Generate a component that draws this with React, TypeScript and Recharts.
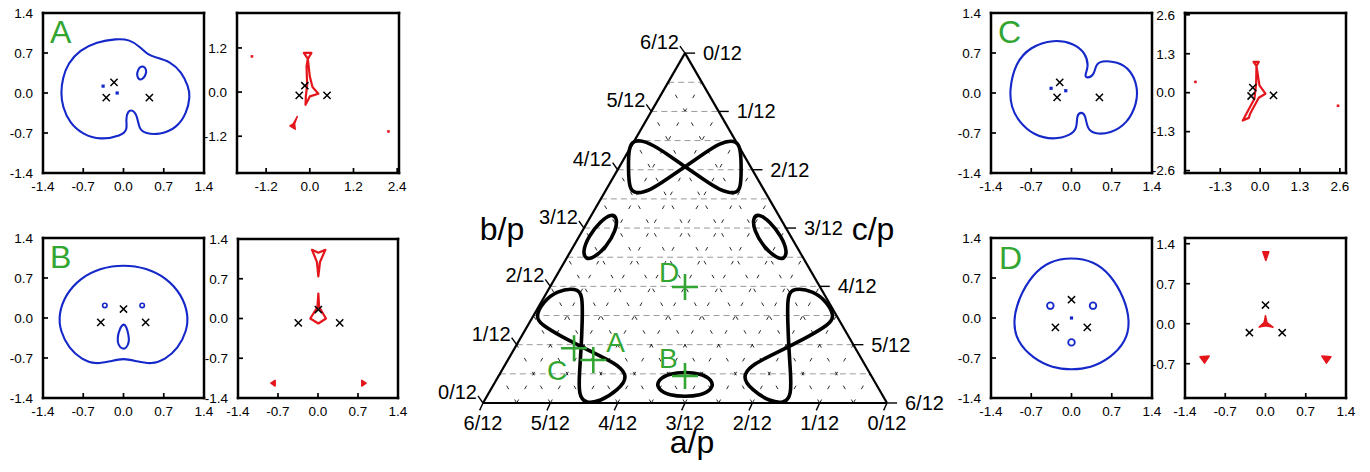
import React from "react";
import { ScatterChart, Scatter, XAxis, YAxis, ReferenceLine } from "recharts";

const FONT = "'Liberation Sans', Arial, Helvetica, sans-serif";
const BLUE = "#1528c9";
const RED = "#e4161c";
const GREEN = "#33a532";

type Pt = [number, number];

// tick values of the small panels
const ticks14 = [-1.4, -0.7, 0, 0.7, 1.4];
const ticksA2x = [-1.2, 0, 1.2, 2.4];
const ticksA2y = [-1.2, 0, 1.2];
const ticksC2x = [-1.3, 0, 1.3, 2.6];
const ticksC2y = [-2.6, -1.3, 0, 1.3, 2.6];
const ticksD2y = [-0.7, 0, 0.7, 1.4];

// ---- panel A ----
const aCurve: Pt[] = [
  [-1.09, 0.0], [-1.06, 0.26], [-0.965, 0.52], [-0.76, 0.75], [-0.47, 0.895], [-0.12, 0.95],
  [0.11, 0.935], [0.285, 0.81], [0.43, 0.66], [0.575, 0.62], [0.81, 0.55], [1.01, 0.37],
  [1.13, 0.11], [1.16, -0.06], [1.1, -0.35], [0.92, -0.62], [0.63, -0.73], [0.38, -0.71],
  [0.27, -0.63], [0.24, -0.4], [0.16, -0.29], [0.07, -0.32], [0.04, -0.47], [0.07, -0.64],
  [-0.035, -0.75], [-0.41, -0.82], [-0.7, -0.73], [-0.935, -0.53], [-1.06, -0.24],
];
const aOval: Pt[] = [
  [0.26, 0.245], [0.23, 0.315], [0.25, 0.4], [0.29, 0.46], [0.35, 0.47], [0.4, 0.41], [0.39, 0.33], [0.35, 0.26], [0.3, 0.23],
];
const aDots: Pt[] = [[-0.355, 0.12], [-0.11, 0.0]];
const aCross: Pt[] = [[-0.165, 0.185], [-0.3, -0.08], [0.45, -0.08]];
const aCaustic: Pt[] = [
  [-0.164, 1.064], [0.045, 1.064], [-0.055, 0.9], [0.0, 0.427], [0.073, 0.136], [0.236, -0.045],
  [0.0, -0.118], [-0.118, -0.345], [-0.109, -0.118], [-0.073, 0.2], [-0.09, 0.7], [-0.055, 0.9],
];
const aCausticSmall: Pt[] = [[-0.345, -0.664], [-0.455, -0.864], [-0.545, -0.918], [-0.4, -1.01], [-0.418, -0.864]];
const aRedDots: Pt[] = [[-1.59, 0.97], [2.16, -1.07]];
const aCross2: Pt[] = [[-0.136, 0.173], [-0.29, -0.09], [0.473, -0.09]];

// ---- panel B ----
const bCurve: Pt[] = [
  [0, 0.935], [0.4, 0.877], [0.75, 0.7], [1.01, 0.41], [1.13, 0.06], [1.1, -0.23], [0.95, -0.53],
  [0.72, -0.73], [0.49, -0.81], [0.23, -0.76], [0.0, -0.7], [-0.23, -0.76], [-0.49, -0.81],
  [-0.72, -0.73], [-0.95, -0.53], [-1.1, -0.23], [-1.13, 0.06], [-1.01, 0.41], [-0.75, 0.7], [-0.4, 0.877],
];
const bDrop: Pt[] = [
  [0, -0.09], [0.05, -0.15], [0.09, -0.3], [0.1, -0.42], [0.05, -0.53], [-0.02, -0.545], [-0.09, -0.48], [-0.11, -0.36], [-0.07, -0.19],
];
const bRings: Pt[] = [[-0.325, 0.22], [0.325, 0.22]];
const bCross: Pt[] = [[0, 0.157], [-0.395, -0.076], [0.385, -0.076]];
const bCausticTop: Pt[] = [[-0.105, 1.21], [0.006, 1.158], [0.129, 1.21], [0.035, 0.994], [0.006, 0.743], [-0.018, 0.994]];
const bCausticMid: Pt[] = [[0.006, 0.439], [0.02, 0.2], [0.14, 0.0], [0.006, -0.088], [-0.135, 0.0], [-0.01, 0.2]];
const bTriLeft: Pt[] = [[-0.75, -1.09], [-0.75, -1.19], [-0.825, -1.14]];
const bTriRight: Pt[] = [[0.766, -1.09], [0.766, -1.19], [0.842, -1.14]];
const bCross2: Pt[] = [[0.006, 0.158], [-0.345, -0.077], [0.38, -0.077]];

// ---- panel C ----
const cCurve: Pt[] = [
  [-1.08, 0.05], [-0.98, 0.52], [-0.72, 0.81], [-0.31, 0.94], [0.04, 0.87], [0.245, 0.7], [0.3, 0.46],
  [0.23, 0.315], [0.26, 0.257], [0.39, 0.3], [0.42, 0.49], [0.51, 0.567], [0.8, 0.55], [1.035, 0.4],
  [1.15, 0.11], [1.14, -0.18], [0.975, -0.53], [0.68, -0.71], [0.39, -0.72], [0.27, -0.62],
  [0.245, -0.386], [0.17, -0.33], [0.088, -0.386], [0.1, -0.62], [-0.018, -0.74], [-0.31, -0.82],
  [-0.66, -0.74], [-0.92, -0.5], [-1.05, -0.24],
];
const cDots: Pt[] = [[-0.355, 0.082], [-0.1, 0.04]];
const cCross: Pt[] = [[-0.205, 0.187], [-0.25, -0.076], [0.485, -0.076]];
const cCaustic: Pt[] = [
  [-0.218, 1.03], [-0.044, 1.03], [-0.12, 0.895], [-0.022, 0.246], [0.174, -0.034], [-0.044, -0.168],
  [-0.327, -0.705], [-0.37, -0.84], [-0.566, -0.928], [-0.48, -0.76], [-0.185, -0.2], [-0.13, 0.3], [-0.12, 0.895],
];
const cRedDots: Pt[] = [[-2.11, 0.36], [2.54, -0.436]];
const cCross2: Pt[] = [[-0.24, 0.168], [-0.294, -0.11], [0.436, -0.09]];

// ---- panel D ----
const dCurve: Pt[] = [
  [0, 1.064], [0.39, 0.994], [0.68, 0.76], [0.92, 0.35], [1.02, -0.06], [0.95, -0.41], [0.68, -0.7],
  [0.33, -0.877], [0, -0.906], [-0.33, -0.877], [-0.68, -0.7], [-0.95, -0.41], [-1.02, -0.06],
  [-0.92, 0.35], [-0.68, 0.76], [-0.39, 0.994],
];
const dRings: Pt[] = [[-0.368, 0.216], [0.374, 0.216], [0, -0.427]];
const dDots: Pt[] = [[0, 0]];
const dCross: Pt[] = [[0, 0.32], [-0.28, -0.164], [0.275, -0.164]];
const dDeltoid: Pt[] = [[0, 0.14], [0.025, 0.02], [0.13, -0.06], [0, -0.035], [-0.11, -0.06], [-0.025, 0.02]];
const dTriTop: Pt[] = [[-0.047, 1.26], [0.058, 1.26], [0.006, 1.108]];
const dTriLeft: Pt[] = [[-1.14, -0.578], [-0.98, -0.566], [-1.06, -0.69]];
const dTriRight: Pt[] = [[0.98, -0.566], [1.138, -0.578], [1.06, -0.69]];
const dCross2: Pt[] = [[0, 0.327], [-0.28, -0.158], [0.29, -0.158]];

// ---- ternary diagram (units of 1/12, triangle side = 6) ----
const ternTicks = [0, 1, 2, 3, 4, 5, 6];
const gridSteps = [0.5, 1, 1.5, 2, 2.5, 3, 3.5, 4, 4.5, 5, 5.5];
const loopTop: Pt[] = [
  [3.0, 3.51], [2.777, 3.668], [2.53, 3.832], [2.332, 3.906], [2.208, 3.881], [2.163, 3.757], [2.158, 3.46],
  [2.173, 3.188], [2.257, 3.104], [2.48, 3.153], [2.728, 3.322], [3.0, 3.51], [3.272, 3.698], [3.52, 3.866],
  [3.743, 3.906], [3.827, 3.807], [3.837, 3.46], [3.827, 3.188], [3.757, 3.104], [3.52, 3.153], [3.272, 3.322],
];
const ovalLeft: Pt[] = [
  [1.911, 2.817], [1.995, 2.743], [1.975, 2.569], [1.837, 2.322], [1.639, 2.149], [1.525, 2.134], [1.48, 2.248], [1.564, 2.47], [1.738, 2.693],
];
const ovalRight: Pt[] = [
  [4.089, 2.817], [4.005, 2.743], [4.025, 2.569], [4.163, 2.322], [4.361, 2.149], [4.475, 2.134], [4.52, 2.248], [4.436, 2.47], [4.262, 2.693],
];
const ovalBottom: Pt[] = [
  [3.0, 0.46], [3.223, 0.44], [3.41, 0.345], [3.41, 0.2], [3.223, 0.11], [3.0, 0.095], [2.777, 0.11], [2.59, 0.2], [2.59, 0.345], [2.777, 0.44],
];
const loopLeft: Pt[] = [
  [0.772, 1.282], [0.896, 1.505], [1.094, 1.668], [1.391, 1.708], [1.48, 1.604], [1.475, 1.233], [1.46, 0.837],
  [1.431, 0.441], [1.421, 0.119], [1.515, -0.005], [1.738, 0.02], [2.01, 0.193], [2.158, 0.391], [2.01, 0.564],
  [1.738, 0.698], [1.46, 0.837], [1.168, 0.985], [0.871, 1.158],
];
const loopRight: Pt[] = [
  [5.228, 1.282], [5.104, 1.505], [4.906, 1.668], [4.609, 1.708], [4.52, 1.604], [4.525, 1.233], [4.54, 0.837],
  [4.569, 0.441], [4.579, 0.119], [4.485, -0.005], [4.262, 0.02], [3.99, 0.193], [3.842, 0.391], [3.99, 0.564],
  [4.262, 0.698], [4.54, 0.837], [4.832, 0.985], [5.129, 1.158],
];
const markerNames = ["A", "B", "C", "D"];
const markerPos: Pt[] = [[1.638, 0.639], [3.0, 0.401], [1.352, 0.812], [3.0, 1.723]];

const markerLabelOffset: Record<string, Pt> = { A: [13, -8], B: [-26, -8], C: [-27, 32], D: [-26, -5] };

const S3 = Math.sqrt(3) / 2;
const toXY = (p: Pt[]) => p.map(([x, y]) => ({ x, y }));

const NoDot = () => <g />;
const Cross = (p: any) => {
  const s = 3.6;
  return (
    <path
      d={`M${p.cx - s},${p.cy - s}L${p.cx + s},${p.cy + s}M${p.cx - s},${p.cy + s}L${p.cx + s},${p.cy - s}`}
      stroke="#000"
      strokeWidth={1.5}
      fill="none"
    />
  );
};
const BlueDot = (p: any) => <rect x={p.cx - 1.6} y={p.cy - 1.6} width={3.2} height={3.2} fill={BLUE} />;
const RedDot = (p: any) => <rect x={p.cx - 1.3} y={p.cy - 1.3} width={2.6} height={2.6} fill={RED} />;
const SmallRing = (p: any) => <circle cx={p.cx} cy={p.cy} r={2.2} fill="none" stroke={BLUE} strokeWidth={1.6} />;
const Ring = (p: any) => <circle cx={p.cx} cy={p.cy} r={3.3} fill="none" stroke={BLUE} strokeWidth={1.8} />;

function curve(key: string, pts: Pt[], color: string, width: number, type = "basisClosed", filled = false) {
  return (
    <Scatter
      key={key}
      data={toXY(pts)}
      shape={NoDot}
      line={{ stroke: color, strokeWidth: width, fill: filled ? color : "none", strokeLinejoin: "round" }}
      lineJointType={type as any}
      isAnimationActive={false}
    />
  );
}
function marks(key: string, pts: Pt[], shape: any) {
  return <Scatter key={key} data={toXY(pts)} shape={shape} isAnimationActive={false} />;
}

type Box = { x: number; y: number; w: number; h: number };

function Panel({ box, xd, yd, xt, yt, children }: { box: Box; xd: number[]; yd: number[]; xt: number[]; yt: number[]; children: any }) {
  const axisLine = { stroke: "#000", strokeWidth: 2.5, strokeLinecap: "square" };
  const tickLine = { stroke: "#000", strokeWidth: 1.7 };
  const tick = { fill: "#000", fontSize: 13.5, fontFamily: FONT };
  const fmt = (v: number) => v.toFixed(1);
  return (
    <div style={{ position: "absolute", left: box.x - 40, top: box.y - 11 }}>
      <ScatterChart width={box.w + 53} height={box.h + 37} margin={{ top: 10, right: 12, bottom: 2, left: 0 }}>
        <XAxis type="number" dataKey="x" domain={xd} ticks={xt} interval={0} allowDataOverflow height={24}
          tickSize={-5} tickMargin={13} axisLine={axisLine} tickLine={tickLine} tick={tick} tickFormatter={fmt} />
        <XAxis xAxisId="t" orientation="top" type="number" dataKey="x" domain={xd} ticks={xt} interval={0}
          allowDataOverflow height={1} tickSize={-5} tick={false} axisLine={axisLine} tickLine={tickLine} />
        <YAxis type="number" dataKey="y" domain={yd} ticks={yt} interval={0} allowDataOverflow width={40}
          tickSize={-5} tickMargin={15} axisLine={axisLine} tickLine={tickLine} tick={tick} tickFormatter={fmt} />
        <YAxis yAxisId="r" orientation="right" type="number" dataKey="y" domain={yd} ticks={yt} interval={0}
          allowDataOverflow width={1} tickSize={-5} tick={false} axisLine={axisLine} tickLine={tickLine} />
        <Scatter xAxisId="t" yAxisId="r" data={[{ x: xd[0], y: yd[0] }]} shape={NoDot} isAnimationActive={false} />
        {children}
      </ScatterChart>
    </div>
  );
}

// ternary geometry helpers
const leftEdge = (b: number): Pt => [b / 2, b * S3];
const rightEdge = (c: number): Pt => [3 + c / 2, (6 - c) * S3];
const bottomEdge = (a: number): Pt => [6 - a, 0];

function seg(key: string, p: Pt, q: Pt, stroke: string, width: number, dash?: string) {
  return (
    <ReferenceLine
      key={key}
      segment={[{ x: p[0], y: p[1] }, { x: q[0], y: q[1] }]}
      stroke={stroke}
      strokeWidth={width}
      strokeDasharray={dash}
      ifOverflow="visible"
    />
  );
}

const BottomLabel = (p: any) => (
  <text x={p.cx} y={p.cy + 27} textAnchor="middle" fontSize={20} fontFamily={FONT} fill="#000">{p.payload.label}</text>
);
const LeftLabel = (p: any) => (
  <text x={p.cx - 6} y={p.cy - 4} textAnchor="end" fontSize={20} fontFamily={FONT} fill="#000">{p.payload.label}</text>
);
const RightLabel = (p: any) => (
  <text x={p.cx + 18} y={p.cy + 7} textAnchor="start" fontSize={20} fontFamily={FONT} fill="#000">{p.payload.label}</text>
);
const GreenMarker = (p: any) => {
  const s = 13;
  const off = markerLabelOffset[p.payload.label];
  return (
    <g>
      <path d={`M${p.cx - s},${p.cy}H${p.cx + s}M${p.cx},${p.cy - s}V${p.cy + s}`} stroke={GREEN} strokeWidth={2.6} />
      <text x={p.cx + off[0]} y={p.cy + off[1]} fontSize={28} fontFamily={FONT} fill={GREEN}>{p.payload.label}</text>
    </g>
  );
};

function Ternary() {
  const lines: any[] = [];
  gridSteps.forEach((g, i) => {
    lines.push(seg(`h${i}`, leftEdge(g), [6 - g / 2, g * S3], "#9a9a9a", 1, "6 4"));
    lines.push(seg(`c${i}`, [g, 0], [g + (6 - g) / 2, (6 - g) * S3], "#111", 0.9, "4 12"));
    lines.push(seg(`a${i}`, [6 - g, 0], [(6 - g) / 2, (6 - g) * S3], "#111", 0.9, "4 12"));
  });
  lines.push(seg("e1", [0, 0], [6, 0], "#000", 2.2));
  lines.push(seg("e2", [0, 0], [3, 6 * S3], "#000", 2.2));
  lines.push(seg("e3", [6, 0], [3, 6 * S3], "#000", 2.2));
  ternTicks.forEach((v) => {
    const pb = bottomEdge(v);
    lines.push(seg(`tb${v}`, pb, [pb[0] - 0.05, -0.11], "#000", 1.4));
    const pl = leftEdge(v);
    lines.push(seg(`tl${v}`, pl, [pl[0] - 0.075, pl[1] + 0.105], "#000", 1.4));
    const pr = rightEdge(v);
    lines.push(seg(`tr${v}`, pr, [pr[0] + 0.15, pr[1]], "#000", 1.4));
  });
  const bottomLabels = ternTicks.map((v) => ({ x: bottomEdge(v)[0], y: bottomEdge(v)[1], label: `${v}/12` }));
  const leftLabels = ternTicks.map((v) => ({ x: leftEdge(v)[0], y: leftEdge(v)[1], label: `${v}/12` }));
  const rightLabels = ternTicks.map((v) => ({ x: rightEdge(v)[0], y: rightEdge(v)[1], label: `${v}/12` }));
  const markers = markerPos.map(([x, y], i) => ({ x, y, label: markerNames[i] }));
  return (
    <div style={{ position: "absolute", left: 422, top: 0 }}>
      <ScatterChart width={526} height={472} margin={{ top: 0, right: 0, bottom: 0, left: 0 }}>
        <XAxis type="number" dataKey="x" domain={[-0.906, 6.906]} allowDataOverflow hide />
        <YAxis type="number" dataKey="y" domain={[-1.025, 5.985]} allowDataOverflow hide />
        {lines}
        {curve("lt", loopTop, "#000", 3.6)}
        {curve("ol", ovalLeft, "#000", 3.6)}
        {curve("or", ovalRight, "#000", 3.6)}
        {curve("ob", ovalBottom, "#000", 3.6)}
        {curve("ll", loopLeft, "#000", 3.6)}
        {curve("lr", loopRight, "#000", 3.6)}
        <Scatter data={bottomLabels} shape={BottomLabel} isAnimationActive={false} />
        <Scatter data={leftLabels} shape={LeftLabel} isAnimationActive={false} />
        <Scatter data={rightLabels} shape={RightLabel} isAnimationActive={false} />
        <Scatter data={markers} shape={GreenMarker} isAnimationActive={false} />
      </ScatterChart>
    </div>
  );
}

export default function App() {
  return (
    <div style={{ position: "absolute", left: 0, top: 0, width: 1370, height: 472, background: "#fff", overflow: "hidden", fontFamily: FONT }}>
      <Panel box={{ x: 43, y: 13, w: 161, h: 160 }} xd={[-1.4, 1.4]} yd={[-1.4, 1.4]} xt={ticks14} yt={ticks14}>
        {curve("c", aCurve, BLUE, 2.1)}
        {curve("o", aOval, BLUE, 2.1)}
        {marks("d", aDots, BlueDot)}
        {marks("x", aCross, Cross)}
      </Panel>
      <Panel box={{ x: 237, y: 13, w: 162, h: 160 }} xd={[-2.0, 2.45]} yd={[-2.2, 2.15]} xt={ticksA2x} yt={ticksA2y}>
        {curve("k", aCaustic, RED, 2.2, "linearClosed")}
        {curve("k2", aCausticSmall, RED, 1.5, "linearClosed", true)}
        {marks("d", aRedDots, RedDot)}
        {marks("x", aCross2, Cross)}
      </Panel>
      <Panel box={{ x: 43, y: 238, w: 161, h: 160 }} xd={[-1.4, 1.4]} yd={[-1.4, 1.4]} xt={ticks14} yt={ticks14}>
        {curve("c", bCurve, BLUE, 2.1)}
        {curve("o", bDrop, BLUE, 2.1)}
        {marks("r", bRings, SmallRing)}
        {marks("x", bCross, Cross)}
      </Panel>
      <Panel box={{ x: 238, y: 239, w: 160, h: 159 }} xd={[-1.4, 1.4]} yd={[-1.4, 1.4]} xt={ticks14} yt={ticks14}>
        {curve("k1", bCausticTop, RED, 2.2, "linearClosed")}
        {curve("k2", bCausticMid, RED, 2.2, "linearClosed")}
        {curve("k3", bTriLeft, RED, 1.5, "linearClosed", true)}
        {curve("k4", bTriRight, RED, 1.5, "linearClosed", true)}
        {marks("x", bCross2, Cross)}
      </Panel>
      <Panel box={{ x: 991, y: 13, w: 161, h: 160 }} xd={[-1.4, 1.4]} yd={[-1.4, 1.4]} xt={ticks14} yt={ticks14}>
        {curve("c", cCurve, BLUE, 2.1)}
        {marks("d", cDots, BlueDot)}
        {marks("x", cCross, Cross)}
      </Panel>
      <Panel box={{ x: 1185, y: 13, w: 161, h: 160 }} xd={[-2.45, 2.8]} yd={[-2.68, 2.66]} xt={ticksC2x} yt={ticksC2y}>
        {curve("k", cCaustic, RED, 2.2, "linearClosed")}
        {marks("d", cRedDots, RedDot)}
        {marks("x", cCross2, Cross)}
      </Panel>
      <Panel box={{ x: 991, y: 238, w: 161, h: 160 }} xd={[-1.4, 1.4]} yd={[-1.4, 1.4]} xt={ticks14} yt={ticks14}>
        {curve("c", dCurve, BLUE, 2.1)}
        {marks("r", dRings, Ring)}
        {marks("d", dDots, BlueDot)}
        {marks("x", dCross, Cross)}
      </Panel>
      <Panel box={{ x: 1185, y: 238, w: 161, h: 160 }} xd={[-1.4, 1.4]} yd={[-1.3, 1.5]} xt={ticks14} yt={ticksD2y}>
        {curve("k1", dDeltoid, RED, 1.5, "linearClosed", true)}
        {curve("k2", dTriTop, RED, 1.5, "linearClosed", true)}
        {curve("k3", dTriLeft, RED, 1.5, "linearClosed", true)}
        {curve("k4", dTriRight, RED, 1.5, "linearClosed", true)}
        {marks("x", dCross2, Cross)}
      </Panel>
      <Ternary />
      <svg width={1370} height={472} style={{ position: "absolute", left: 0, top: 0, pointerEvents: "none" }}>
        <g fontFamily={FONT} fontSize={32} fill={GREEN}>
          <text x={50} y={43}>A</text>
          <text x={50} y={268}>B</text>
          <text x={998} y={43}>C</text>
          <text x={999} y={269}>D</text>
        </g>
        <g fontFamily={FONT} fontSize={32} fill="#000" textAnchor="middle">
          <text x={692} y={453}>a/p</text>
          <text x={502} y={240}>b/p</text>
          <text x={873} y={240}>c/p</text>
        </g>
      </svg>
    </div>
  );
}
